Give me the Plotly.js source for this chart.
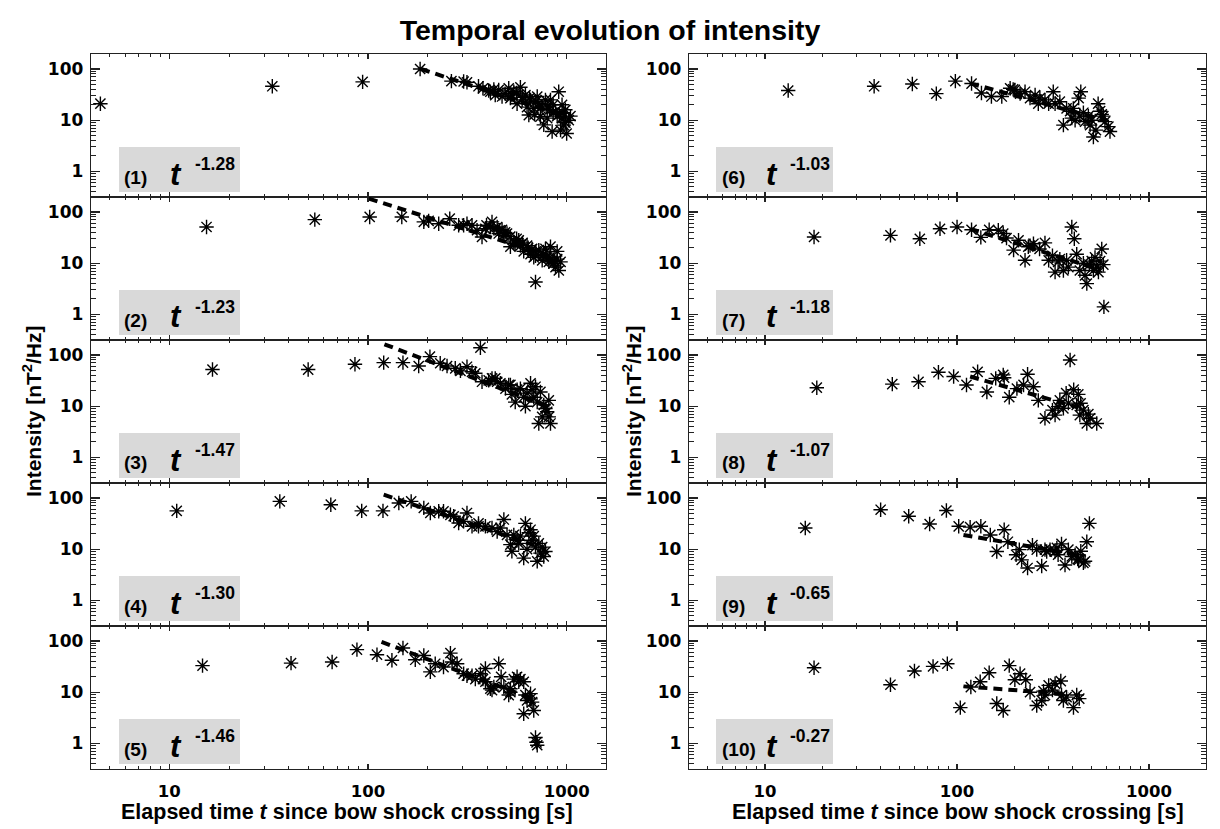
<!DOCTYPE html>
<html>
<head>
<meta charset="utf-8">
<script src="https://cdn.plot.ly/plotly-3.0.1.min.js"></script>
<style>
html,body{margin:0;padding:0;background:#ffffff;}
#chart{width:1220px;height:829px;}
</style>
</head>
<body>
<div id="chart"></div>
<script>
// ---------------- data ----------------
const panelLabels = ['(1)','(2)','(3)','(4)','(5)','(6)','(7)','(8)','(9)','(10)'];
const exponents   = ['-1.28','-1.23','-1.47','-1.30','-1.46','-1.03','-1.18','-1.07','-0.65','-0.27'];

const p1T = [4.5,33,94,183,263,315,360,405,437,473,511,542,585,620,563,645,683,724,782,829,912,855,767,845,932,1000,1025,985,948,711,658,597,521,738,798,896,968,1045,632,413,455,379,303,855,948,690,798,985,430,490,530,560,600,650,700,750,820,880,920,960];
const p1I = [21,46,56,100,58,55,46,38,31,29,42,36,44,31,21,12.6,17,21,25,25,36,20,8.1,6,6.4,5.5,10,16,20,29,25,25,27,11.7,11,12,8,12,18,36,39,42,57,14,11,13,18,9,40,33,31,34,28,27,23,19,16,15,13,14];

const p2T = [15.4,54,102,148,191,227,258,286,315,334,375,390,421,447,473,501,521,542,574,608,632,670,697,724,767,697,798,829,845,879,896,913,862,932,753,658,585,483,413,354,303,782,550,455,683,896,813,202,395,430,460,490,520,560,600,640,700,760,820,870];
const p2I = [51,71,80,80,64,59,74,55,59,55,32.5,47,64,51,45,38,21,26,28,17,22,19,14,18,15,4.3,13,21,11,8.4,12,7.2,10,10.6,11.4,15,22,35,51,44,55,19,24,38,13,17,10.6,67,55,48,44,40,33,30,25,20,17,14,13,11];

const p3T = [16.5,50,86,120,150,180,205,231,250,275,315,292,347,368,375,405,437,464,492,521,551,563,585,620,632,658,683,711,724,753,782,813,829,798,738,670,608,530,447,421,334,767,697,511,813];
const p3I = [52,52,66,71,71,61,93,69,61,55,59,49,44,139,30,32,35,28,22,26,12,21,22,10,18,28,15,12,4.6,6.2,9,13,4.6,7.8,19,21,15,17,30,35,47,10.6,24,26,6.2];

const p4T = [10.9,36,65,93,119,143,165,191,206,227,240,260,286,315,334,360,390,421,447,483,501,521,530,563,585,620,608,645,670,697,711,738,767,753,724,683,632,574,542,464,360,303,270,782,658];
const p4I = [56,86,74,56,56,80,86,64,51,55,55,47,32.5,51,28,28,28,26,22,38,19,12.3,9.1,15,18,32,6.7,21,15,11,5.8,8.4,7.2,11,13,18,10,13,19,26,32,35,44,9,24];

const p5T = [14.7,41,66,88,111,132,150,173,191,206,218,240,260,281,303,334,347,368,390,390,413,430,455,468,483,511,521,542,563,585,608,620,632,608,658,670,683,658,697,711,705,521,421,379,315,265,574];
const p5I = [33,37,39,68,54,42,73,43,52,25,36,31,58,36,23,21,18,23,29,16,11.7,12.6,36,20,12.6,8.8,11.7,18,20,18,16,8.8,6.9,3.8,9.4,6.4,4.4,7.4,1.3,0.92,1.05,10,11,18,21,39,16];

const p6T = [13.2,37,58.5,78,98,119,134,151,171,189,200,213,226,240,255,265,287,300,317,324,343,358,372,388,396,412,430,441,455,464,483,503,513,529,543,556,578,589,626,614,567,493,436,403,270,196];
const p6I = [38,46,51,33,58,52,34,29,29,42,39,33,36,27,31,21,25,21,36,21,23,8,17,15,11,10,27,36,14,9.4,12,10,4.7,6.4,21,15,12,9.4,6,7.5,13,8,12,17,27,40];

const p7T = [18,45,64,81.5,100,119,133,147,164,181,197,209,226,235,250,269,287,300,314,324,343,358,372,396,408,420,436,455,464,474,489,503,513,534,556,567,578,582,545,523,336,174,240,380];
const p7I = [32.5,35,30,47,51,45,32,45,44,31,18,28,11.4,21,24,19,25,11.4,14,6.7,12,7.2,11.4,51,30,15,7.2,10,5.8,4,9.4,11,7.2,8.4,11,19,9.4,1.4,6.7,13,10.6,38,22,8.4];

const p8T = [18.6,46,63,80,96,112,128,143,159,174,187,205,233,250,265,287,314,343,358,370,388,380,405,420,436,455,474,493,534,440,336,324,428,483,222,176];
const p8I = [23,27,30,46,38,26,47,19,35,41,15,22,42,24,13,5.8,8.4,13,9.1,18,80,11.5,21,10.6,6.7,8.4,4.6,5.8,4.6,11.4,9.8,6.7,17,7,26,36];

const p9T = [16.2,40,56,72,88,102,117,133,149,161,176,184,203,217,233,211,247,260,276,287,305,324,336,350,365,380,396,412,430,441,455,464,474,489,425,331,293];
const p9I = [26,59,44,31,57,28,27,28,19,9,24,14,7.8,6.2,4.3,9.8,12,9.8,4.7,9.8,9.8,9.1,7.8,12.7,4.9,9.8,7.2,7.8,6.2,9.1,5.4,5.8,14,32,6.4,10.6,9];

const p10T = [18,45,60,75,89,104,118,132,147,161,174,187,200,213,228,240,260,276,287,300,314,324,347,358,372,404,420,433,282,350];
const p10I = [30,14,26,32,36,5,12.6,16,24,6,4.4,33,17.5,23,17.5,10,5.5,6.9,8.8,13.6,11,14.7,16.5,6.9,8,5,8.8,7.5,10.5,8.8];

// power-law fit segments: end points [start, end]
const fitT = [[185,1000],[101,900],[121,800],[120,790],[117,700],[117,600],[117,560],[117,430],[108,460],[108,380]];
const fitI = [[100,11.5],[182,12.4],[162,10],[116,10],[96,7],[52.5,9.8],[47,7.4],[38,9.4],[19,7.4],[13,9.2]];

const xTickVals = [10,100,1000];
const xTickText = ['10','100','1000'];
const yTickVals = [1,10,100];
const yTickText = ['1','10','100'];
const xMinorVals = [5,6,7,8,9,20,30,40,50,60,70,80,90,200,300,400,500,600,700,800,900];
const yMinorVals = [0.4,0.5,0.6,0.7,0.8,0.9,2,3,4,5,6,7,8,9,20,30,40,50,60,70,80,90,200];

const seriesT = [p1T,p2T,p3T,p4T,p5T,p6T,p7T,p8T,p9T,p10T];
const seriesI = [p1I,p2I,p3I,p4I,p5I,p6I,p7I,p8I,p9I,p10I];

// ---------------- layout geometry ----------------
const W = 1220, H = 829;
const colPx = [[91,606],[689,1205.7]];
const rowTop = [54,197,340,483,626];
const rowH = 143;
const xRanges = [[0.606,3.198],[0.604,3.295]];
const yRange = [-0.5,2.293];
const fx = px => px / W;
const fy = py => 1 - py / H;

const frameColor = '#222222';
const traces = [];
const layout = {
  width: W, height: H,
  margin: {l:0, r:0, t:0, b:0},
  paper_bgcolor: '#ffffff',
  plot_bgcolor: 'rgba(0,0,0,0)',
  showlegend: false,
  title: {
    text: '<b>Temporal evolution of intensity</b>',
    font: {family: 'Liberation Sans, Arial, sans-serif', size: 28.5, color: '#000'},
    x: 0.5, xanchor: 'center', xref: 'container',
    y: 1 - 30 / H, yanchor: 'middle', yref: 'container'
  },
  shapes: [],
  annotations: []
};

for (let k = 0; k < 10; k++) {
  const col = k < 5 ? 0 : 1;
  const row = k % 5;
  const sfx = k === 0 ? '' : String(k + 1);
  const xa = 'xaxis' + sfx, ya = 'yaxis' + sfx;
  const xr = 'x' + sfx, yr = 'y' + sfx;
  const left = colPx[col][0], right = colPx[col][1];
  const top = rowTop[row], bottom = top + rowH;

  layout[xa] = {
    type: 'log', domain: [fx(left), fx(right)], range: xRanges[col], anchor: yr,
    showgrid: false, zeroline: false, showline: true, linecolor: frameColor, linewidth: 1.3,
    mirror: 'allticks', ticks: 'inside', ticklen: 5, tickwidth: 1.2, tickcolor: frameColor,
    tickmode: 'array', tickvals: xTickVals, ticktext: xTickText,
    showticklabels: row === 4, ticklabelstandoff: 7,
    tickfont: {family: 'DejaVu Sans, sans-serif', size: 16.5, color: '#000', weight: 'bold'},
    minor: {ticks: 'inside', ticklen: 3, tickwidth: 1, tickcolor: frameColor, tickmode: 'array', tickvals: xMinorVals, showgrid: false},
    fixedrange: true
  };
  layout[ya] = {
    type: 'log', domain: [fy(bottom), fy(top)], range: yRange, anchor: xr,
    showgrid: false, zeroline: false, showline: true, linecolor: frameColor, linewidth: 1.3,
    mirror: 'allticks', ticks: 'inside', ticklen: 9, tickwidth: 1.2, tickcolor: frameColor,
    tickmode: 'array', tickvals: yTickVals, ticktext: yTickText,
    showticklabels: true, ticklabelstandoff: 3,
    tickfont: {family: 'DejaVu Sans, sans-serif', size: 17, color: '#000', weight: 'bold'},
    minor: {ticks: 'inside', ticklen: 5, tickwidth: 1, tickcolor: frameColor, tickmode: 'array', tickvals: yMinorVals, showgrid: false},
    fixedrange: true
  };

  traces.push({
    type: 'scatter', mode: 'markers', x: seriesT[k], y: seriesI[k], xaxis: xr, yaxis: yr,
    marker: {symbol: 'asterisk-open', size: 12, color: '#000', line: {width: 1.4, color: '#000'}},
    hoverinfo: 'skip'
  });
  traces.push({
    type: 'scatter', mode: 'lines', x: fitT[k], y: fitI[k], xaxis: xr, yaxis: yr,
    line: {color: '#000', width: 4, dash: '9px,6px'},
    hoverinfo: 'skip'
  });

  // grey label box
  const bx0 = col === 0 ? 28 : 27, bx1 = col === 0 ? 149 : 144;
  layout.shapes.push({
    type: 'rect', xref: 'paper', yref: 'paper', layer: 'above',
    x0: fx(left + bx0), x1: fx(left + bx1), y0: fy(top + 138), y1: fy(top + 93),
    fillcolor: '#d9d9d9', line: {width: 0}
  });
  const offN = col === 0 ? 31 : 30.5;
  const offT = col === 0 ? 77 : 75;
  const offE = col === 0 ? 102 : 99;
  layout.annotations.push({
    xref: 'paper', yref: 'paper', x: fx(left + offN), y: fy(top + 123),
    xanchor: 'left', yanchor: 'middle', showarrow: false,
    text: '<b>' + panelLabels[k] + '</b>',
    font: {family: 'Liberation Sans, Arial, sans-serif', size: 19, color: '#000'}
  });
  layout.annotations.push({
    xref: 'paper', yref: 'paper', x: fx(left + offT), y: fy(top + 120),
    xanchor: 'left', yanchor: 'middle', showarrow: false,
    text: '<b><i>t</i></b>',
    font: {family: 'Liberation Sans, Arial, sans-serif', size: 31, color: '#000'}
  });
  layout.annotations.push({
    xref: 'paper', yref: 'paper', x: fx(left + offE), y: fy(top + 109.5),
    xanchor: 'left', yanchor: 'middle', showarrow: false,
    text: '<b>' + exponents[k] + '</b>',
    font: {family: 'Liberation Sans, Arial, sans-serif', size: 17.5, color: '#000'}
  });
}

// axis titles
const yTitleX = [31.5, 631.5];
const xTitleX = [347, 958];
for (let c = 0; c < 2; c++) {
  layout.annotations.push({
    xref: 'paper', yref: 'paper', x: fx(yTitleX[c]), y: fy(411.5),
    xanchor: 'center', yanchor: 'middle', textangle: -90, showarrow: false,
    text: '<b>Intensity [nT<sup>2</sup>/Hz]</b>',
    font: {family: 'Liberation Sans, Arial, sans-serif', size: 21, color: '#000'}
  });
  layout.annotations.push({
    xref: 'paper', yref: 'paper', x: fx(xTitleX[c]), y: fy(812.4),
    xanchor: 'center', yanchor: 'middle', showarrow: false,
    text: '<b>Elapsed time <i>t</i> since bow shock crossing [s]</b>',
    font: {family: 'Liberation Sans, Arial, sans-serif', size: 21.5, color: '#000'}
  });
}

Plotly.newPlot('chart', traces, layout, {displayModeBar: false, staticPlot: true});
</script>
</body>
</html>
